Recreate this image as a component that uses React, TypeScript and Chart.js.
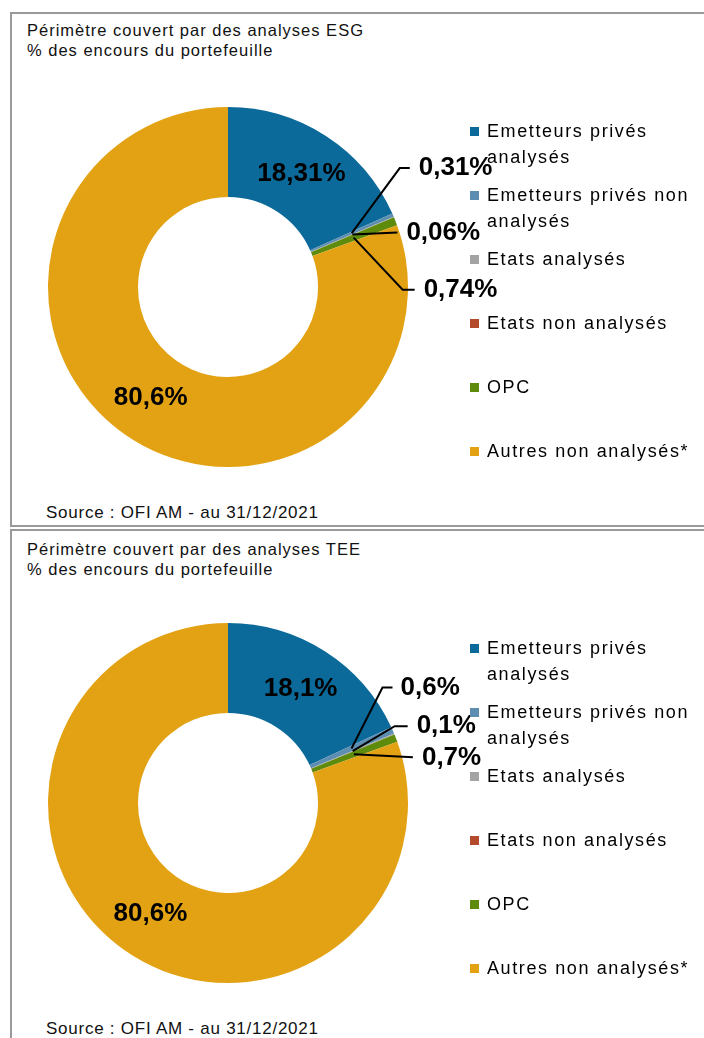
import React, { useEffect, useRef } from "react";
import { Chart, registerables } from "chart.js";

Chart.register(...registerables);

const categories = [
  "Emetteurs privés analysés",
  "Emetteurs privés non analysés",
  "Etats analysés",
  "Etats non analysés",
  "OPC",
  "Autres non analysés*",
];
const colors = ["#0b6a9a", "#5d8db1", "#a3a3a3", "#b44a2c", "#5f8b0d", "#e3a214"];

const esgValues = [18.31, 0.31, 0.06, 0, 0.74, 80.6];
const esgLabels = ["18,31%", "0,31%", "0,06%", "", "0,74%", "80,6%"];
const teeValues = [18.1, 0.6, 0.1, 0, 0.7, 80.6];
const teeLabels = ["18,1%", "0,6%", "0,1%", "", "0,7%", "80,6%"];

const esgTitle = ["Périmètre couvert par des analyses ESG", "% des encours du portefeuille"];
const teeTitle = ["Périmètre couvert par des analyses TEE", "% des encours du portefeuille"];
const sourceText = "Source : OFI AM - au 31/12/2021";

// leader-line geometry for small slices: [dx, dy, horizontal length, gap]
const esgLeaders: (number[] | null)[] = [null, [48, -65, 10, 9], [45, -2, 0, 9], null, [49, 52, 12, 9], null];
const teeLeaders: (number[] | null)[] = [null, [31, -61, 10, 8], [42, -25, 13, 9], null, [59, 3, 0, 9], null];

const FONT = "'Liberation Sans', Arial, Helvetica, sans-serif";

const labelPlugin = {
  id: "pctLabels",
  afterDatasetsDraw(chart: any) {
    const opts = chart.options.plugins.pctLabels;
    const meta = chart.getDatasetMeta(0);
    const ctx = chart.ctx;
    ctx.save();
    ctx.font = `bold 26px ${FONT}`;
    ctx.fillStyle = "#000";
    ctx.textBaseline = "middle";
    meta.data.forEach((arc: any, i: number) => {
      const text = opts.labels[i];
      if (!text) return;
      const p = arc.getCenterPoint ? arc.getCenterPoint() : arc.tooltipPosition();
      const leader = opts.leaders[i];
      if (!leader) {
        ctx.textAlign = "center";
        ctx.fillText(text, p.x, p.y);
        return;
      }
      const [dx, dy, hl, gap] = leader;
      ctx.strokeStyle = "#000";
      ctx.lineWidth = 2;
      ctx.beginPath();
      ctx.moveTo(p.x, p.y);
      ctx.lineTo(p.x + dx, p.y + dy);
      ctx.lineTo(p.x + dx + hl, p.y + dy);
      ctx.stroke();
      ctx.textAlign = "left";
      ctx.fillText(text, p.x + dx + hl + gap, p.y + dy);
    });
    ctx.restore();
  },
};

function Donut({ values, labels, leaders, top, height }: any) {
  const ref = useRef<HTMLCanvasElement>(null);
  useEffect(() => {
    const chart = new Chart(ref.current as HTMLCanvasElement, {
      type: "doughnut",
      data: {
        labels: categories,
        datasets: [
          {
            data: values,
            backgroundColor: colors,
            borderWidth: 0,
          },
        ],
      },
      options: {
        animation: false,
        responsive: false,
        cutout: "50%",
        layout: { padding: { left: 48, right: 296, top: 107, bottom: height - 467 } },
        plugins: {
          legend: { display: false },
          tooltip: { enabled: false },
          title: { display: false },
          pctLabels: { labels, leaders },
        } as any,
      },
      plugins: [labelPlugin],
    });
    return () => chart.destroy();
  }, []);
  return (
    <canvas
      ref={ref}
      width={704}
      height={height}
      style={{ position: "absolute", left: 0, top, width: 704, height }}
    />
  );
}

function Legend({ top }: { top: number }) {
  return (
    <>
      {categories.map((c, i) => (
        <div
          key={c}
          style={{
            position: "absolute",
            left: 470,
            top: top + 64 * i,
            width: 240,
            display: "flex",
            alignItems: "flex-start",
          }}
        >
          <span
            style={{
              display: "inline-block",
              width: 9,
              height: 9,
              marginTop: 9,
              background: colors[i],
              flex: "0 0 auto",
            }}
          />
          <span
            style={{
              marginLeft: 8,
              width: 215,
              fontFamily: FONT,
              fontSize: 18,
              letterSpacing: "1.6px",
              lineHeight: "26px",
              color: "#000",
            }}
          >
            {c}
          </span>
        </div>
      ))}
    </>
  );
}

function Texts({ title, titleTop, sourceTop }: any) {
  return (
    <>
      <div
        style={{
          position: "absolute",
          left: 27,
          top: titleTop,
          fontFamily: FONT,
          fontSize: 16.5,
          lineHeight: "20px",
          letterSpacing: "1px",
          color: "#111",
          whiteSpace: "nowrap",
        }}
      >
        <div>{title[0]}</div>
        <div>{title[1]}</div>
      </div>
      <div
        style={{
          position: "absolute",
          left: 46,
          top: sourceTop,
          fontFamily: FONT,
          fontSize: 17,
          lineHeight: "20px",
          letterSpacing: "0.75px",
          color: "#111",
          whiteSpace: "nowrap",
        }}
      >
        {sourceText}
      </div>
    </>
  );
}

export default function App() {
  return (
    <div
      style={{
        position: "absolute",
        left: 0,
        top: 0,
        width: 704,
        height: 1038,
        overflow: "hidden",
        background: "#fff",
      }}
    >
      <div
        style={{
          position: "absolute",
          left: 10,
          top: 12,
          width: 740,
          height: 515,
          boxSizing: "border-box",
          border: "2px solid #9a9a9a",
        }}
      />
      <div
        style={{
          position: "absolute",
          left: 10,
          top: 529,
          width: 740,
          height: 600,
          boxSizing: "border-box",
          border: "2px solid #9a9a9a",
        }}
      />
      <Texts title={esgTitle} titleTop={20} sourceTop={503} />
      <Texts title={teeTitle} titleTop={539} sourceTop={1019} />
      <Donut values={esgValues} labels={esgLabels} leaders={esgLeaders} top={0} height={516} />
      <Donut values={teeValues} labels={teeLabels} leaders={teeLeaders} top={516} height={520} />
      <Legend top={118} />
      <Legend top={635} />
    </div>
  );
}
